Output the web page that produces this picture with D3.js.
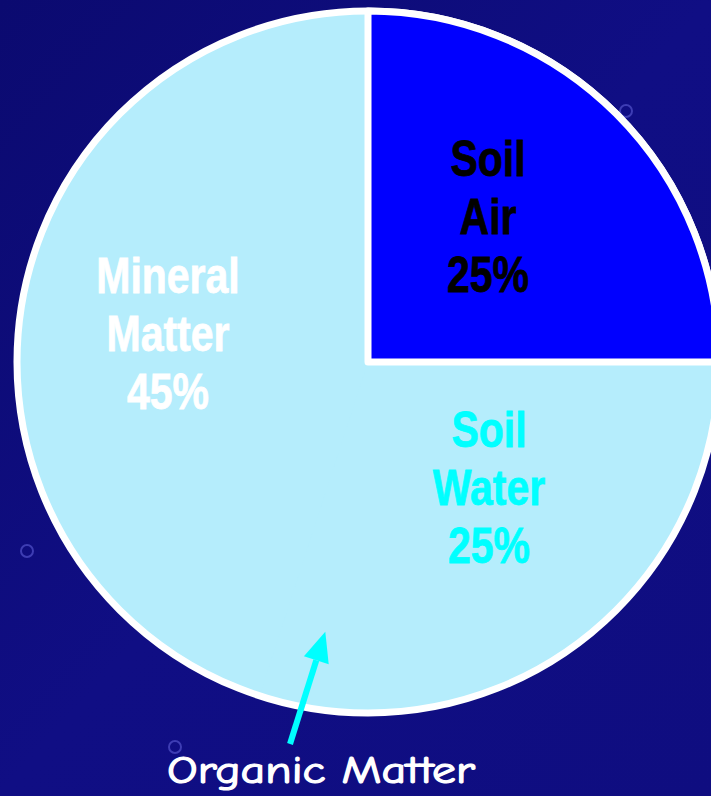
<!DOCTYPE html>
<html>
<head>
<meta charset="utf-8">
<script src="https://cdn.jsdelivr.net/npm/d3@7"></script>
<style>
  html, body { margin: 0; padding: 0; background: #0f0d80; overflow: hidden; }
  svg { display: block; }
</style>
</head>
<body>
<svg id="chart" width="711" height="796"></svg>
<script>
// ---- data ----
const categories = ["Soil Air", "Soil Water", "Organic Matter", "Mineral Matter"];
const values = [25, 25, 5, 45];
const labelLines = [["Soil", "Air", "25%"], ["Soil", "Water", "25%"], [], ["Mineral", "Matter", "45%"]];
const sliceColors = ["#0000ff", "#b5edfc", "#b5edfc", "#b5edfc"];
const labelColors = ["#000000", "#00ffff", "#ffffff", "#ffffff"];

// ---- layout ----
const W = 711, H = 796;
const cx = 368, cy = 362, R = 351;
// label anchor (center x, first baseline) per slice
const labelPos = [[488, 176], [489, 447], null, [168, 293]];
const lineGap = 58;

const svg = d3.select("#chart");
const defs = svg.append("defs");
const grad = defs.append("linearGradient").attr("id", "bg")
  .attr("x1", 0).attr("y1", 0).attr("x2", 1).attr("y2", 1);
grad.append("stop").attr("offset", "0%").attr("stop-color", "#0b0a70");
grad.append("stop").attr("offset", "50%").attr("stop-color", "#100e84");
grad.append("stop").attr("offset", "100%").attr("stop-color", "#0f0d80");
svg.append("rect").attr("width", W).attr("height", H).attr("fill", "url(#bg)");

// faint decorative rings
[[27, 551], [626, 111], [175, 747]].forEach(([x, y]) => {
  svg.append("circle").attr("cx", x).attr("cy", y).attr("r", 6)
    .attr("fill", "none").attr("stroke", "#4a4ac0").attr("stroke-width", 2).attr("opacity", 0.8);
});

const pie = d3.pie().sort(null).value(d => d).startAngle(0).endAngle(2 * Math.PI);
const arcs = pie(values);
const arc = d3.arc().innerRadius(0).outerRadius(R);

const g = svg.append("g").attr("transform", `translate(${cx},${cy})`);

// base disc (avoids seams between same-colour slices)
g.append("circle").attr("r", R).attr("fill", sliceColors[3]);

// light slices (no borders between them)
g.selectAll("path.slice")
  .data(arcs.filter((d, i) => i !== 0))
  .join("path")
  .attr("class", "slice")
  .attr("d", arc)
  .attr("fill", (d) => sliceColors[d.index]);

// outer white outline
g.append("circle").attr("r", R).attr("fill", "none")
  .attr("stroke", "#ffffff").attr("stroke-width", 7);

// Soil Air slice with white border
g.append("path").datum(arcs[0])
  .attr("d", arc)
  .attr("fill", sliceColors[0])
  .attr("stroke", "#ffffff")
  .attr("stroke-width", 7)
  .attr("stroke-linejoin", "round");

// labels
arcs.forEach((d, i) => {
  const pos = labelPos[i];
  if (!pos) return;
  labelLines[i].forEach((t, k) => {
    svg.append("text")
      .attr("transform", `translate(${pos[0]},${pos[1] + k * lineGap}) scale(0.82,1)`)
      .attr("text-anchor", "middle")
      .attr("font-family", "'Liberation Sans', Arial, sans-serif")
      .attr("font-weight", "bold")
      .attr("font-size", 50)
      .attr("fill", labelColors[i])
      .attr("stroke", labelColors[i])
      .attr("stroke-width", 0.8)
      .text(t);
  });
});

// Organic Matter arrow pointing into its slice
const om = arcs[2];
const mid = (om.startAngle + om.endAngle) / 2;
const tipR = 273;
const tip = [cx + tipR * Math.sin(mid), cy - tipR * Math.cos(mid)];
const tail = [290, 744];
const ang = Math.atan2(tip[1] - tail[1], tip[0] - tail[0]);
const headLen = 30, headW = 13;
const base = [tip[0] - headLen * Math.cos(ang), tip[1] - headLen * Math.sin(ang)];
svg.append("line")
  .attr("x1", tail[0]).attr("y1", tail[1]).attr("x2", base[0]).attr("y2", base[1])
  .attr("stroke", "#00ffff").attr("stroke-width", 6);
const px = -Math.sin(ang), py = Math.cos(ang);
svg.append("path")
  .attr("d", `M${tip[0]},${tip[1]} L${base[0] + headW * px},${base[1] + headW * py} L${base[0] - headW * px},${base[1] - headW * py} Z`)
  .attr("fill", "#00ffff");

svg.append("text")
  .attr("x", 167).attr("y", 783)
  .attr("font-family", "'Comic Sans MS', 'Comic Neue', 'DejaVu Sans', sans-serif")
  .attr("font-size", 38)
  .attr("fill", "#ffffff")
  .attr("stroke", "#ffffff")
  .attr("stroke-width", 1.2)
  .attr("textLength", 308)
  .attr("lengthAdjust", "spacingAndGlyphs")
  .text(categories[2]);
</script>
</body>
</html>
